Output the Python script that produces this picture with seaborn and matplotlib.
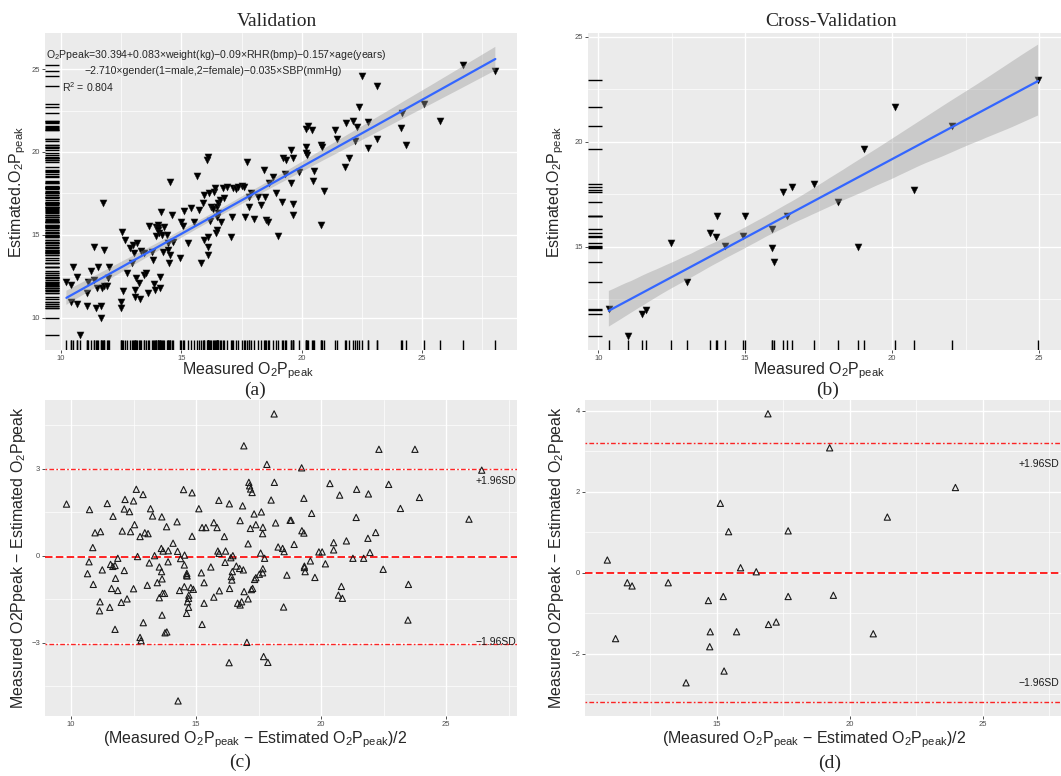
import numpy as np
import pandas as pd
import matplotlib
matplotlib.use('Agg')
import matplotlib.pyplot as plt
import seaborn as sns

# (a) validation set: measured vs estimated O2Ppeak
val_measured = [
    10.22, 10.40, 10.51, 10.40, 10.68, 10.68, 11.07, 11.07, 11.13, 11.26,
    11.35, 11.38, 11.44, 11.51, 11.54, 11.65, 11.68, 11.76, 11.79, 11.79,
    11.90, 11.93, 11.97, 11.65, 10.79, 12.49, 12.49, 12.51, 12.58, 12.67,
    12.74, 12.88, 12.93, 12.97, 13.04, 13.07, 13.07, 13.15, 13.11, 13.24,
    13.28, 13.32, 13.46, 13.46, 13.54, 13.60, 13.67, 13.76, 13.82, 13.88,
    13.90, 13.94, 13.96, 14.01, 14.01, 14.04, 14.07, 14.11, 14.13, 14.15,
    14.18, 14.22, 14.29, 14.40, 14.43, 14.46, 14.49, 14.51, 14.54, 14.60,
    14.64, 14.96, 14.99, 15.06, 15.10, 15.29, 15.40, 15.51, 15.63, 15.75,
    15.82, 15.89, 15.92, 15.96, 16.06, 16.10, 16.10, 16.10, 16.10, 16.13,
    16.18, 16.21, 16.31, 16.35, 16.38, 16.43, 16.46, 16.46, 16.49, 16.51,
    16.54, 16.60, 16.65, 16.74, 16.79, 16.88, 17.07, 17.10, 17.13, 17.26,
    17.35, 17.51, 17.60, 17.63, 17.74, 17.79, 17.82, 17.88, 18.01, 18.18,
    18.29, 18.43, 18.49, 18.53, 18.60, 18.63, 18.79, 18.93, 19.01, 19.18,
    19.24, 20.16, 20.27, 20.43, 20.18, 20.21, 20.16, 19.35, 19.56, 19.65,
    19.30, 19.56, 19.62, 19.62, 19.89, 20.48, 20.53, 20.80, 20.86, 20.91,
    20.80, 21.37, 21.45, 21.80, 21.83, 21.96, 22.15, 22.23, 22.31, 22.39,
    22.50, 22.74, 22.74, 23.12, 23.12, 24.12, 24.15, 24.33, 25.09, 25.76,
    26.71, 28.05]
val_estimated = [
    12.19, 11.99, 13.09, 10.98, 10.82, 12.45, 10.72, 11.53, 12.19, 12.85,
    12.29, 14.30, 10.58, 11.83, 13.05, 10.72, 11.79, 16.91, 14.10, 11.93,
    11.93, 12.39, 13.05, 9.98, 8.98, 10.98, 10.58, 15.20, 11.65, 14.70,
    12.69, 14.24, 13.29, 14.40, 13.94, 11.69, 11.24, 14.50, 12.39, 12.13,
    11.12, 14.06, 13.94, 12.59, 12.69, 11.53, 15.56, 14.00, 13.49, 12.05,
    11.69, 15.50, 14.94, 15.60, 15.40, 15.30, 15.14, 12.45, 11.79, 16.41,
    15.00, 14.00, 15.50, 15.00, 14.50, 14.10, 13.29, 13.80, 18.21, 16.18,
    14.56, 13.59, 15.80, 15.56, 16.47, 14.54, 16.61, 15.78, 18.55, 16.51,
    13.33, 16.91, 14.70, 17.41, 19.52, 13.80, 14.30, 14.90, 19.72, 17.51,
    15.84, 16.71, 16.55, 17.61, 17.81, 15.10, 15.30, 16.10, 16.71, 16.91,
    16.35, 17.11, 15.76, 17.85, 17.21, 17.87, 14.90, 16.10, 17.85, 17.75,
    17.91, 17.95, 17.91, 16.10, 19.38, 17.31, 16.71, 17.55, 15.94, 17.31,
    16.81, 18.92, 17.31, 15.90, 15.80, 18.11, 18.47, 17.55, 14.94, 17.01,
    19.62, 21.37, 21.57, 21.33, 20.28, 19.82, 19.92, 19.52, 20.12, 19.62,
    18.67, 18.11, 16.87, 16.20, 18.82, 18.27, 18.88, 20.42, 20.28, 17.67,
    15.60, 21.33, 20.76, 19.08, 21.73, 19.66, 21.89, 20.68, 21.53, 22.69,
    24.60, 21.79, 20.26, 23.98, 20.78, 21.47, 22.33, 20.40, 22.89, 21.87,
    25.26, 24.90]

# (b) cross-validation set
cv_measured = [20.09, 19.03, 20.74, 16.29, 16.60, 17.35, 22.05, 24.97, 18.15,
               14.04, 15.00, 16.44, 15.93, 13.81, 14.00, 14.94, 14.32, 12.48,
               15.93, 18.84, 15.97, 13.03, 10.36, 11.50, 11.64, 11.02]
cv_estimated = [21.64, 19.65, 17.70, 17.60, 17.86, 17.99, 20.75, 22.94, 17.14,
                16.48, 16.48, 16.48, 15.84, 15.64, 15.48, 15.52, 15.03, 15.19,
                14.92, 15.00, 14.29, 13.30, 12.02, 11.78, 11.99, 10.76]

# (c) Bland-Altman, validation set
ba_val_mean = [
    18.12, 16.91, 17.83, 17.11, 17.14, 17.18, 17.24, 18.13, 18.00, 9.82,
    10.74, 11.45, 11.68, 12.16, 12.50, 12.61, 12.88, 12.13, 12.34, 13.18,
    13.26, 13.63, 13.82, 14.24, 14.50, 14.84, 15.11, 15.91, 16.33, 16.86,
    17.32, 17.61, 16.76, 17.39, 17.17, 17.67, 17.66, 18.18, 12.54, 12.05,
    12.38, 12.76, 12.95, 13.08, 10.96, 11.18, 10.87, 14.08, 14.84, 15.24,
    15.39, 15.71, 15.84, 16.13, 13.61, 13.68, 13.89, 14.26, 14.38, 14.54,
    15.87, 15.92, 16.18, 16.39, 16.47, 17.08, 17.58, 17.74, 18.28, 10.72,
    10.66, 11.25, 10.89, 11.58, 11.67, 11.76, 11.87, 12.13, 11.78, 11.62,
    11.87, 12.50, 11.16, 11.55, 11.14, 12.24, 12.01, 12.66, 13.13, 13.34,
    13.53, 13.62, 13.64, 13.45, 13.05, 13.53, 13.66, 13.74, 13.88, 14.53,
    14.62, 14.64, 14.63, 14.53, 14.34, 14.79, 14.89, 14.71, 14.70, 14.66,
    14.70, 14.62, 15.21, 15.32, 15.32, 15.59, 15.71, 15.93, 16.16, 16.34,
    16.41, 16.43, 16.45, 16.61, 16.74, 16.89, 16.92, 17.08, 17.21, 17.26,
    16.66, 16.76, 16.82, 17.34, 17.39, 17.53, 17.66, 17.67, 13.64, 12.89,
    11.76, 13.76, 13.83, 12.76, 12.80, 15.24, 17.03, 16.32, 17.70, 17.87,
    14.28, 22.31, 23.75, 19.22, 26.42, 20.35, 21.42, 22.70, 20.74, 21.89,
    19.31, 23.93, 23.17, 19.62, 21.40, 25.91, 18.76, 18.80, 19.23, 19.31,
    22.18, 21.87, 21.01, 20.50, 20.50, 18.92, 18.46, 18.52, 19.91, 20.04,
    21.95, 21.27, 21.70, 19.57, 20.17, 19.33, 19.33, 19.36, 18.63, 22.48,
    19.75, 20.81, 23.49, 20.69, 20.85, 18.50, 23.47]
ba_val_diff = [
    4.89, 3.79, 3.15, 2.53, 2.41, 2.30, 2.18, 2.53, 1.92, 1.78,
    1.59, 1.80, 1.36, 1.94, 1.89, 2.29, 2.11, 1.61, 1.52, 1.62,
    1.37, 1.34, 1.00, 1.17, 2.28, 2.17, 1.62, 1.91, 1.79, 1.72,
    1.44, 1.51, 1.21, 1.07, 0.94, 0.98, 0.76, 1.13, 1.07, 0.85,
    0.83, 0.66, 0.79, 0.76, 0.79, 0.83, 0.28, 0.43, 0.67, 0.97,
    0.97, 1.14, 0.97, 0.66, 0.25, 0.16, 0.17, 0.15, -0.10, 0.02,
    0.16, 0.08, 0.16, -0.07, 0.00, 0.41, 0.09, -0.09, 0.30, -0.21,
    -0.62, -0.49, -0.99, -0.30, -0.37, -0.34, -0.09, -0.51, -0.78, -1.13,
    -1.20, -1.14, -1.59, -1.78, -1.90, -1.49, -1.61, -0.03, -0.25, 0.00,
    -0.39, -0.55, -0.80, -0.93, -1.02, -1.45, -1.30, -1.30, -0.21, -0.32,
    -0.67, -0.70, -0.61, -1.07, -1.20, -1.10, -1.16, -1.36, -1.47, -1.59,
    -1.78, -1.99, -0.59, -0.93, -1.64, -0.39, -1.43, -1.21, -0.23, -1.13,
    -0.72, -0.84, -0.55, -0.36, -0.44, -0.49, -1.24, -1.49, -1.17, -1.13,
    -1.64, -1.70, -1.59, -0.82, -0.76, -0.64, -0.59, -0.45, -2.05, -2.31,
    -2.54, -2.66, -2.63, -2.82, -2.93, -2.37, -2.99, -3.69, -3.48, -3.68,
    -5.01, 3.67, 3.67, 3.03, 2.95, 2.49, 2.29, 2.46, 2.09, 2.13,
    1.98, 2.01, 1.63, 1.46, 1.32, 1.26, 1.22, 1.22, 0.86, 0.78,
    0.80, 0.60, 0.51, 0.45, 0.20, 0.39, 0.25, 0.14, 0.13, 0.13,
    0.11, -0.09, -0.09, -0.18, -0.28, -0.36, -0.41, -0.55, -0.67, -0.47,
    -0.75, -1.06, -0.99, -1.36, -1.47, -1.77, -2.22]
val_limits = [3.00, -0.03, -3.06]   # +1.96SD, mean difference, -1.96SD

# (d) Bland-Altman, cross-validation set
ba_cv_mean = [10.89, 16.93, 19.25, 23.98, 15.14, 15.45, 17.69, 21.42, 15.90,
              16.49, 11.64, 11.82, 13.18, 14.69, 15.25, 17.69, 19.39, 16.95,
              17.24, 14.76, 15.75, 20.89, 11.20, 14.74, 15.28, 13.85]
ba_cv_diff = [0.31, 3.92, 3.08, 2.10, 1.71, 1.01, 1.03, 1.37, 0.12, 0.02,
              -0.25, -0.33, -0.25, -0.69, -0.59, -0.59, -0.56, -1.28, -1.22,
              -1.46, -1.46, -1.51, -1.63, -1.83, -2.43, -2.72]
cv_limits = [3.19, 0.00, -3.19]

equation_1 = 'O$_2$Ppeak=30.394+0.083×weight(kg)−0.09×RHR(bmp)−0.157×age(years)'
equation_2 = '−2.710×gender(1=male,2=female)−0.035×SBP(mmHg)'
r2_text = 'R$^2$ = 0.804'

sns.set_theme(style='darkgrid')
plt.rcParams['font.family'] = ['Liberation Sans', 'DejaVu Sans']
plt.rcParams['mathtext.default'] = 'regular'

SERIF = ['Liberation Serif', 'DejaVu Serif']
W, H = 1061, 776


def gg_style(ax, xlim, ylim, xticks, yticks, xminor, yminor):
    """ggplot2 theme_grey look-alike"""
    ax.set_facecolor('#EBEBEB')
    ax.set_xlim(xlim)
    ax.set_ylim(ylim)
    ax.set_xticks(xticks)
    ax.set_yticks(yticks)
    ax.set_xticks(xminor, minor=True)
    ax.set_yticks(yminor, minor=True)
    ax.grid(which='major', color='white', lw=1.0)
    ax.grid(which='minor', color='white', lw=0.5)
    ax.set_axisbelow(True)
    for s in ax.spines.values():
        s.set_visible(False)
    ax.tick_params(which='major', length=2, width=0.6, color='#333333',
                   labelsize=5.5, labelcolor='#4D4D4D', pad=1.5,
                   bottom=True, left=True)
    ax.tick_params(which='minor', length=0)


def scatter_fit(ax, x, y):
    df = pd.DataFrame({'measured': x, 'estimated': y})
    sns.scatterplot(data=df, x='measured', y='estimated', marker='v',
                    color='black', s=26, linewidth=0.3, edgecolor='#222222',
                    ax=ax, zorder=2)
    sns.rugplot(data=df, x='measured', y='estimated', height=0.03,
                color='black', lw=1.0, ax=ax, expand_margins=False)
    n0 = len(ax.collections)
    sns.regplot(data=df, x='measured', y='estimated', scatter=False, ci=95,
                n_boot=1000, seed=3, color='#3366FF', truncate=True,
                line_kws={'lw': 1.6, 'zorder': 4}, ax=ax)
    for coll in ax.collections[n0:]:
        coll.set_facecolor('#999999')
        coll.set_alpha(0.4)
        coll.set_edgecolor('none')
        coll.set_zorder(3)


def bland_altman(ax, x, y, limits, label_x, label_y):
    df = pd.DataFrame({'mean': x, 'diff': y})
    sns.scatterplot(data=df, x='mean', y='diff', marker='^', s=20,
                    facecolor='none', edgecolor='#1A1A1A', linewidth=0.8,
                    ax=ax, zorder=3)
    up, bias, low = limits
    ax.axhline(bias, color='#FF0000', lw=1.2, ls=(0, (4.5, 2)), zorder=2)
    for v in (up, low):
        ax.axhline(v, color='#FF0000', lw=1.0, ls=(0, (1.2, 1.6, 3.4, 1.6)),
                   alpha=0.85, zorder=2)
    ax.text(label_x, label_y[0], '+1.96SD', ha='center', va='center',
            fontsize=7.5, color='#1A1A1A')
    ax.text(label_x, label_y[1], '−1.96SD', ha='center', va='center',
            fontsize=7.5, color='#1A1A1A')


fig = plt.figure(figsize=(W / 100, H / 100), dpi=100)


def add_ax(left, top, right, bottom):
    return fig.add_axes([left / W, 1 - bottom / H, (right - left) / W,
                         (bottom - top) / H])


ax_a = add_ax(45, 33, 517, 350)
ax_b = add_ax(588, 33, 1061, 350)
ax_c = add_ax(45, 400, 517, 716)
ax_d = add_ax(585, 400, 1061, 716)

# (a)
scatter_fit(ax_a, val_measured, val_estimated)
gg_style(ax_a, (9.33, 28.95), (8.07, 27.17), [10, 15, 20, 25], [10, 15, 20, 25],
         [12.5, 17.5, 22.5, 27.5], [12.5, 17.5, 22.5])
ax_a.text(9.36, 25.84, equation_1, ha='left', va='center', fontsize=7.6)
ax_a.text(10.95, 24.88, equation_2, ha='left', va='center', fontsize=7.6)
ax_a.text(10.03, 23.92, r2_text, ha='left', va='center', fontsize=7.6)

# (b)
scatter_fit(ax_b, cv_measured, cv_estimated)
gg_style(ax_b, (9.65, 25.75), (10.08, 25.18), [10, 15, 20, 25], [15, 20, 25],
         [12.5, 17.5, 22.5], [12.5, 17.5, 22.5])

# (c)
bland_altman(ax_c, ba_val_mean, ba_val_diff, val_limits, 27.0, (2.59, -2.97))
gg_style(ax_c, (8.96, 27.83), (-5.53, 5.37), [10, 15, 20, 25], [-3, 0, 3],
         [12.5, 17.5, 22.5, 27.5], [-4.5, -1.5, 1.5, 4.5])

# (d)
bland_altman(ax_d, ba_cv_mean, ba_cv_diff, cv_limits, 27.1, (2.68, -2.73))
gg_style(ax_d, (10.05, 27.95), (-3.54, 4.26), [15, 20, 25], [-2, 0, 2, 4],
         [12.5, 17.5, 22.5, 27.5], [-3, -1, 1, 3])

xl_fit = r'Measured O$_2$P$_{peak}$'
yl_fit = r'Estimated.O$_2$P$_{peak}$'
xl_ba = r'(Measured O$_2$P$_{peak}$ − Estimated O$_2$P$_{peak}$)/2'
yl_ba = r'Measured O2Ppeak − Estimated O$_2$Ppeak'

for ax, xl, yl, xpos, ypos, xy in [
        (ax_a, xl_fit, yl_fit, 0.430, -0.057, -0.066),
        (ax_b, xl_fit, yl_fit, 0.488, -0.068, -0.066),
        (ax_c, xl_ba, yl_ba, 0.445, -0.057, -0.076),
        (ax_d, xl_ba, yl_ba, 0.481, -0.059, -0.076)]:
    ax.set_xlabel(xl, fontsize=11.5, va='center')
    ax.set_ylabel(yl, fontsize=11.5, va='center')
    ax.xaxis.set_label_coords(xpos, xy)
    ax.yaxis.set_label_coords(ypos, 0.5)

fig.text(277 / W, 1 - 21 / H, 'Validation', family=SERIF, fontsize=14,
         ha='center', va='center')
fig.text(831 / W, 1 - 21 / H, 'Cross-Validation', family=SERIF, fontsize=14,
         ha='center', va='center')
for lbl, px, py in [('(a)', 255, 390), ('(b)', 828, 390),
                    ('(c)', 240, 762), ('(d)', 830, 763)]:
    fig.text(px / W, 1 - py / H, lbl, family=SERIF, fontsize=14,
             ha='center', va='center')

fig.savefig('out.png', dpi=100)
